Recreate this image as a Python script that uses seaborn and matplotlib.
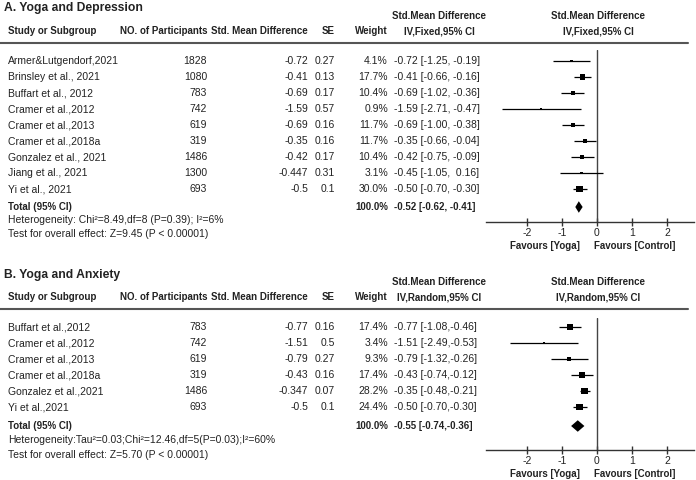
import numpy as np
import pandas as pd
import matplotlib
matplotlib.use("Agg")
import matplotlib.pyplot as plt
import matplotlib.transforms as mtransforms
from matplotlib.lines import Line2D
from matplotlib import font_manager
import seaborn as sns

# A. Yoga and Depression
dep_study = ["Armer&Lutgendorf,2021", "Brinsley et al., 2021", "Buffart et al., 2012",
             "Cramer et al.,2012", "Cramer et al.,2013", "Cramer et al.,2018a",
             "Gonzalez et al., 2021", "Jiang et al., 2021", "Yi et al., 2021"]
dep_n = [1828, 1080, 783, 742, 619, 319, 1486, 1300, 693]
dep_smd = [-0.72, -0.41, -0.69, -1.59, -0.69, -0.35, -0.42, -0.447, -0.5]
dep_se = [0.27, 0.13, 0.17, 0.57, 0.16, 0.16, 0.17, 0.31, 0.1]
dep_weight = [4.1, 17.7, 10.4, 0.9, 11.7, 11.7, 10.4, 3.1, 30.0]
dep_est = [-0.72, -0.41, -0.69, -1.59, -0.69, -0.35, -0.42, -0.45, -0.50]
dep_lo = [-1.25, -0.66, -1.02, -2.71, -1.00, -0.66, -0.75, -1.05, -0.70]
dep_hi = [-0.19, -0.16, -0.36, -0.47, -0.38, -0.04, -0.09, 0.16, -0.30]
dep_total = [-0.52, -0.62, -0.41]

# B. Yoga and Anxiety
anx_study = ["Buffart et al.,2012", "Cramer et al.,2012", "Cramer et al.,2013",
             "Cramer et al.,2018a", "Gonzalez et al.,2021", "Yi et al.,2021"]
anx_n = [783, 742, 619, 319, 1486, 693]
anx_smd = [-0.77, -1.51, -0.79, -0.43, -0.347, -0.5]
anx_se = [0.16, 0.5, 0.27, 0.16, 0.07, 0.1]
anx_weight = [17.4, 3.4, 9.3, 17.4, 28.2, 24.4]
anx_est = [-0.77, -1.51, -0.79, -0.43, -0.35, -0.50]
anx_lo = [-1.08, -2.49, -1.32, -0.74, -0.48, -0.70]
anx_hi = [-0.46, -0.53, -0.26, -0.12, -0.21, -0.30]
anx_total = [-0.55, -0.74, -0.36]

ticks = [-2, -1, 0, 1, 2]

sns.set_theme(style="white")
installed = {f.name for f in font_manager.fontManager.ttflist}
if "Liberation Sans Narrow" in installed:
    plt.rcParams["font.family"] = ["Liberation Sans Narrow", "DejaVu Sans"]
    FS, HS = 8.3, 8.3
else:
    plt.rcParams["font.family"] = ["Liberation Sans", "DejaVu Sans"]
    FS, HS = 7.5, 7
TXT = "#222222"

W, H = 696, 480
fig = plt.figure(figsize=(W / 100, H / 100), dpi=100)


def fx(px):
    return px / W


def fy(py):
    return 1 - py / H


def panel(title, studies, n, smd, se, weight, est, lo, hi, total, method,
          het, test, title_px, row0, axis_px, top_px, total_px, het_px, test_px, spaced):
    step = 16
    ax = fig.add_axes([fx(486), fy(axis_px), fx(694) - fx(486), (axis_px - top_px) / H])
    ax.set_xlim((486 - 597) / 35, (694 - 597) / 35)
    ax.set_ylim((axis_px - row0) / step, (top_px - row0) / step)
    ax.patch.set_alpha(0)

    df = pd.DataFrame({"est": est, "lo": lo, "hi": hi, "weight": weight,
                       "row": np.arange(len(studies))})
    ax.hlines(df["row"], df["lo"], df["hi"], color="black", lw=0.9, zorder=2)
    sns.scatterplot(data=df, x="est", y="row", size="weight", sizes=(1, 24),
                    size_norm=(0, 30), marker="s", color="black", linewidth=0,
                    legend=False, ax=ax, zorder=3)
    yt = (total_px - row0) / step
    ax.fill([total[1], total[0], total[2], total[0]],
            [yt, yt - 0.36, yt, yt + 0.36], color="black", lw=0, zorder=3)
    ax.axvline(0, color="#444444", lw=1, zorder=1)

    for s in ["top", "left", "right"]:
        ax.spines[s].set_visible(False)
    ax.spines["bottom"].set_color("#333333")
    ax.spines["bottom"].set_linewidth(1)
    ax.set_yticks([])
    ax.set_xticks(ticks)
    ax.set_xticklabels([str(t) for t in ticks])
    ax.tick_params(axis="x", bottom=True, direction="inout", length=6, width=1,
                   pad=1, labelsize=FS, colors="#333333", labelcolor=TXT)
    ax.set_xlabel("")
    ax.set_ylabel("")
    ax.annotate("Favours [Yoga]", xy=(-0.49, 0), xycoords=("data", "axes fraction"),
                xytext=(0, -17), textcoords="offset points", ha="right", va="center",
                fontsize=HS, fontweight="bold", color=TXT)
    ax.annotate("Favours [Control]", xy=(-0.09, 0), xycoords=("data", "axes fraction"),
                xytext=(0, -17), textcoords="offset points", ha="left", va="center",
                fontsize=HS, fontweight="bold", color=TXT)

    # headers
    hdr_px = row0 - 30
    fig.text(fx(4), fy(title_px), title, ha="left", va="center", fontsize=HS + 1.7,
             fontweight="bold", color=TXT)
    hk = dict(va="center", fontsize=HS, fontweight="bold", color=TXT)
    fig.text(fx(8), fy(hdr_px), "Study or Subgroup", ha="left", **hk)
    fig.text(fx(207), fy(hdr_px), "NO. of Participants", ha="right", **hk)
    fig.text(fx(308), fy(hdr_px), "Std. Mean Difference", ha="right", **hk)
    fig.text(fx(335), fy(hdr_px), "SE", ha="right", **hk)
    fig.text(fx(388), fy(hdr_px), "Weight", ha="right", **hk)
    for cx in (439, 598):
        fig.text(fx(cx), fy(hdr_px - 15), "Std.Mean Difference", ha="center", **hk)
        fig.text(fx(cx), fy(hdr_px), "IV," + method + ",95% CI", ha="center", **hk)
    fig.add_artist(Line2D([0, fx(688)], [fy(hdr_px + 12)] * 2, color="#555555", lw=1.5))

    # rows
    tr = mtransforms.blended_transform_factory(fig.transFigure, ax.transData)
    rk = dict(va="center", fontsize=FS, color=TXT, transform=tr)
    for i in range(len(studies)):
        if spaced:
            ci = f"{est[i]:.2f} [{lo[i]:.2f}, {hi[i]:5.2f}]"
        else:
            ci = f"{est[i]:.2f} [{lo[i]:.2f},{hi[i]:.2f}]"
        ax.text(fx(8), i, studies[i], ha="left", **rk)
        ax.text(fx(207), i, str(n[i]), ha="right", **rk)
        ax.text(fx(308), i, str(smd[i]), ha="right", **rk)
        ax.text(fx(335), i, str(se[i]), ha="right", **rk)
        ax.text(fx(388), i, f"{weight[i]:.1f}%", ha="right", **rk)
        ax.text(fx(394), i, ci, ha="left", **rk)
    if spaced:
        tci = f"{total[0]:.2f} [{total[1]:.2f}, {total[2]:.2f}]"
    else:
        tci = f"{total[0]:.2f} [{total[1]:.2f},{total[2]:.2f}]"
    bk = dict(rk, fontsize=HS, fontweight="bold")
    ax.text(fx(8), yt, "Total (95% CI)", ha="left", **bk)
    ax.text(fx(388), yt, "100.0%", ha="right", **bk)
    ax.text(fx(394), yt, tci, ha="left", **bk)
    ax.text(fx(8), (het_px - row0) / step, het, ha="left", **rk)
    ax.text(fx(8), (test_px - row0) / step, test, ha="left", **rk)


panel("A. Yoga and Depression", dep_study, dep_n, dep_smd, dep_se, dep_weight,
      dep_est, dep_lo, dep_hi, dep_total, "Fixed",
      "Heterogeneity: Chi\u00b2=8.49,df=8 (P=0.39); I\u00b2=6%",
      "Test for overall effect: Z=9.45 (P < 0.00001)",
      title_px=8, row0=61, axis_px=222, top_px=50, total_px=207, het_px=220,
      test_px=234, spaced=True)
panel("B. Yoga and Anxiety", anx_study, anx_n, anx_smd, anx_se, anx_weight,
      anx_est, anx_lo, anx_hi, anx_total, "Random",
      "Heterogeneity:Tau\u00b2=0.03;Chi\u00b2=12.46,df=5(P=0.03);I\u00b2=60%",
      "Test for overall effect: Z=5.70 (P < 0.00001)",
      title_px=275, row0=327, axis_px=450, top_px=318, total_px=426, het_px=440,
      test_px=455, spaced=False)

fig.savefig("out.png", dpi=100, facecolor="white")
